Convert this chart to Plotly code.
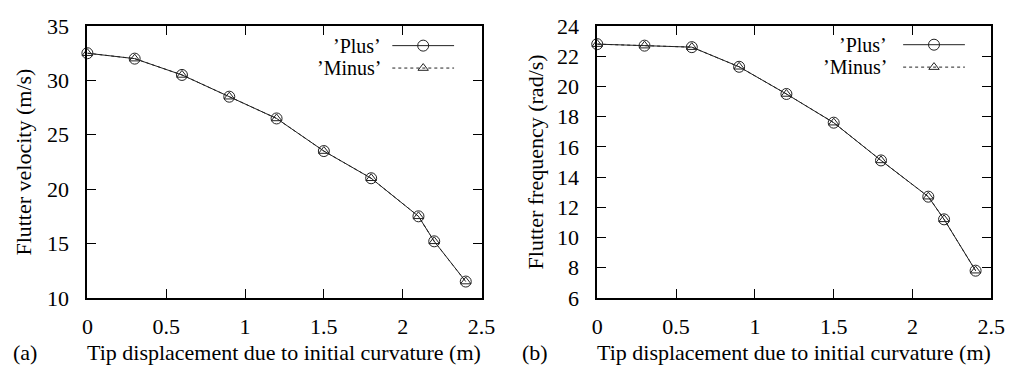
import plotly.graph_objects as go

# Tip displacement due to initial curvature (m)
tip_disp = [0.0, 0.3, 0.6, 0.9, 1.2, 1.5, 1.8, 2.1, 2.2, 2.4]

# Flutter velocity (m/s), "Plus" and "Minus" curvature cases
vel_plus = [32.5, 32.0, 30.5, 28.5, 26.5, 23.5, 21.0, 17.5, 15.2, 11.5]
vel_minus = [32.5, 32.0, 30.5, 28.5, 26.5, 23.5, 21.0, 17.5, 15.2, 11.5]

# Flutter frequency (rad/s), "Plus" and "Minus" curvature cases
freq_plus = [22.8, 22.7, 22.6, 21.3, 19.5, 17.6, 15.1, 12.7, 11.2, 7.8]
freq_minus = [22.8, 22.7, 22.6, 21.3, 19.5, 17.6, 15.1, 12.7, 11.2, 7.8]

series_names = ["\u2019Plus\u2019", "\u2019Minus\u2019"]

W, H = 1024, 380
FONT = "Liberation Serif"
FS = 22
INK = "#222"

def px_x(p):
    return p / W

def px_y(p):
    return 1 - p / H

fig = go.Figure()

panels = [
    ("x", "y", vel_plus, vel_minus),
    ("x2", "y2", freq_plus, freq_minus),
]
for xa, ya, plus, minus in panels:
    fig.add_trace(go.Scatter(
        x=tip_disp, y=plus, xaxis=xa, yaxis=ya, mode="lines+markers",
        line=dict(color=INK, width=1),
        marker=dict(symbol="circle-open", size=11, color=INK, line=dict(width=1)),
        cliponaxis=False, showlegend=False, name=series_names[0]))
    fig.add_trace(go.Scatter(
        x=tip_disp, y=minus, xaxis=xa, yaxis=ya, mode="lines+markers",
        line=dict(color=INK, width=1, dash="3px,3px"),
        marker=dict(symbol="triangle-up-open", size=9, color=INK, line=dict(width=1)),
        cliponaxis=False, showlegend=False, name=series_names[1]))

# Key samples drawn on a full-page overlay axis
legend_rows = [
    # (text right edge px, line start px, line end px, row y px)
    (383, 394, 457, 36),
    (383, 394, 457, 60),
    (900, 915, 978, 35),
    (900, 915, 978, 59),
]
annotations = []
for i, (tx, x0, x1, yy) in enumerate(legend_rows):
    is_plus = i % 2 == 0
    name = series_names[0] if is_plus else series_names[1]
    fig.add_trace(go.Scatter(
        x=[px_x(x0), px_x(x1)], y=[px_y(yy), px_y(yy)], xaxis="x3", yaxis="y3",
        mode="lines", line=dict(color=INK, width=1, dash="solid" if is_plus else "3px,3px"),
        showlegend=False, hoverinfo="skip"))
    fig.add_trace(go.Scatter(
        x=[px_x((x0 + x1) / 2)], y=[px_y(yy)], xaxis="x3", yaxis="y3", mode="markers",
        marker=dict(symbol="circle-open" if is_plus else "triangle-up-open",
                    size=11 if is_plus else 9, color=INK, line=dict(width=1)),
        showlegend=False, hoverinfo="skip"))
    annotations.append(dict(
        x=px_x(tx), y=px_y(yy), xref="paper", yref="paper", text=name,
        showarrow=False, xanchor="right", yanchor="middle", borderpad=0,
        font=dict(family=FONT, size=FS - 2, color="black")))

top, bottom = px_y(15), px_y(306)
left_dom = [px_x(83), px_x(485)]
right_dom = [px_x(603), px_x(1005)]

axis_common = dict(
    showline=True, linecolor="black", linewidth=1.8, mirror="ticks",
    ticks="inside", ticklen=9, tickwidth=1.2, tickcolor="black",
    showgrid=False, zeroline=False,
    tickfont=dict(family=FONT, size=FS, color="black"),
)

xtitle = "Tip displacement due to initial curvature (m)"
text_font = dict(family=FONT, size=FS, color="black")
annotations += [
    dict(x=(left_dom[0] + left_dom[1]) / 2, y=px_y(365), xref="paper", yref="paper",
         text=xtitle, showarrow=False, xanchor="center", yanchor="middle", font=text_font),
    dict(x=(right_dom[0] + right_dom[1]) / 2, y=px_y(365), xref="paper", yref="paper",
         text=xtitle, showarrow=False, xanchor="center", yanchor="middle", font=text_font),
    dict(x=px_x(19), y=px_y(365), xref="paper", yref="paper", text="(a)",
         showarrow=False, xanchor="center", yanchor="middle", font=text_font),
    dict(x=px_x(540), y=px_y(365), xref="paper", yref="paper", text="(b)",
         showarrow=False, xanchor="center", yanchor="middle", font=text_font),
    dict(x=px_x(18), y=(top + bottom) / 2, xref="paper", yref="paper",
         text="Flutter velocity (m/s)", textangle=-90, showarrow=False,
         xanchor="center", yanchor="middle", font=text_font),
    dict(x=px_x(540), y=(top + bottom) / 2, xref="paper", yref="paper",
         text="Flutter frequency (rad/s)", textangle=-90, showarrow=False,
         xanchor="center", yanchor="middle", font=text_font),
]

fig.update_layout(
    width=W, height=H,
    margin=dict(l=0, r=0, t=0, b=0),
    font=dict(family=FONT, size=FS, color="black"),
    paper_bgcolor="white", plot_bgcolor="rgba(0,0,0,0)",
    xaxis=dict(domain=left_dom, range=[0, 2.5], dtick=0.5, anchor="y",
               ticklabelstandoff=8, **axis_common),
    yaxis=dict(domain=[bottom, top], range=[10, 35], dtick=5, anchor="x",
               ticklabelstandoff=12, **axis_common),
    xaxis2=dict(domain=right_dom, range=[0, 2.5], dtick=0.5, anchor="y2",
                ticklabelstandoff=8, **axis_common),
    yaxis2=dict(domain=[bottom, top], range=[6, 24], dtick=2, anchor="x2",
                ticklabelstandoff=12, **axis_common),
    xaxis3=dict(domain=[0, 1], range=[0, 1], visible=False, anchor="y3", fixedrange=True),
    yaxis3=dict(domain=[0, 1], range=[0, 1], visible=False, anchor="x3", fixedrange=True),
    annotations=annotations,
    showlegend=False,
)

fig.write_html("out.html")
